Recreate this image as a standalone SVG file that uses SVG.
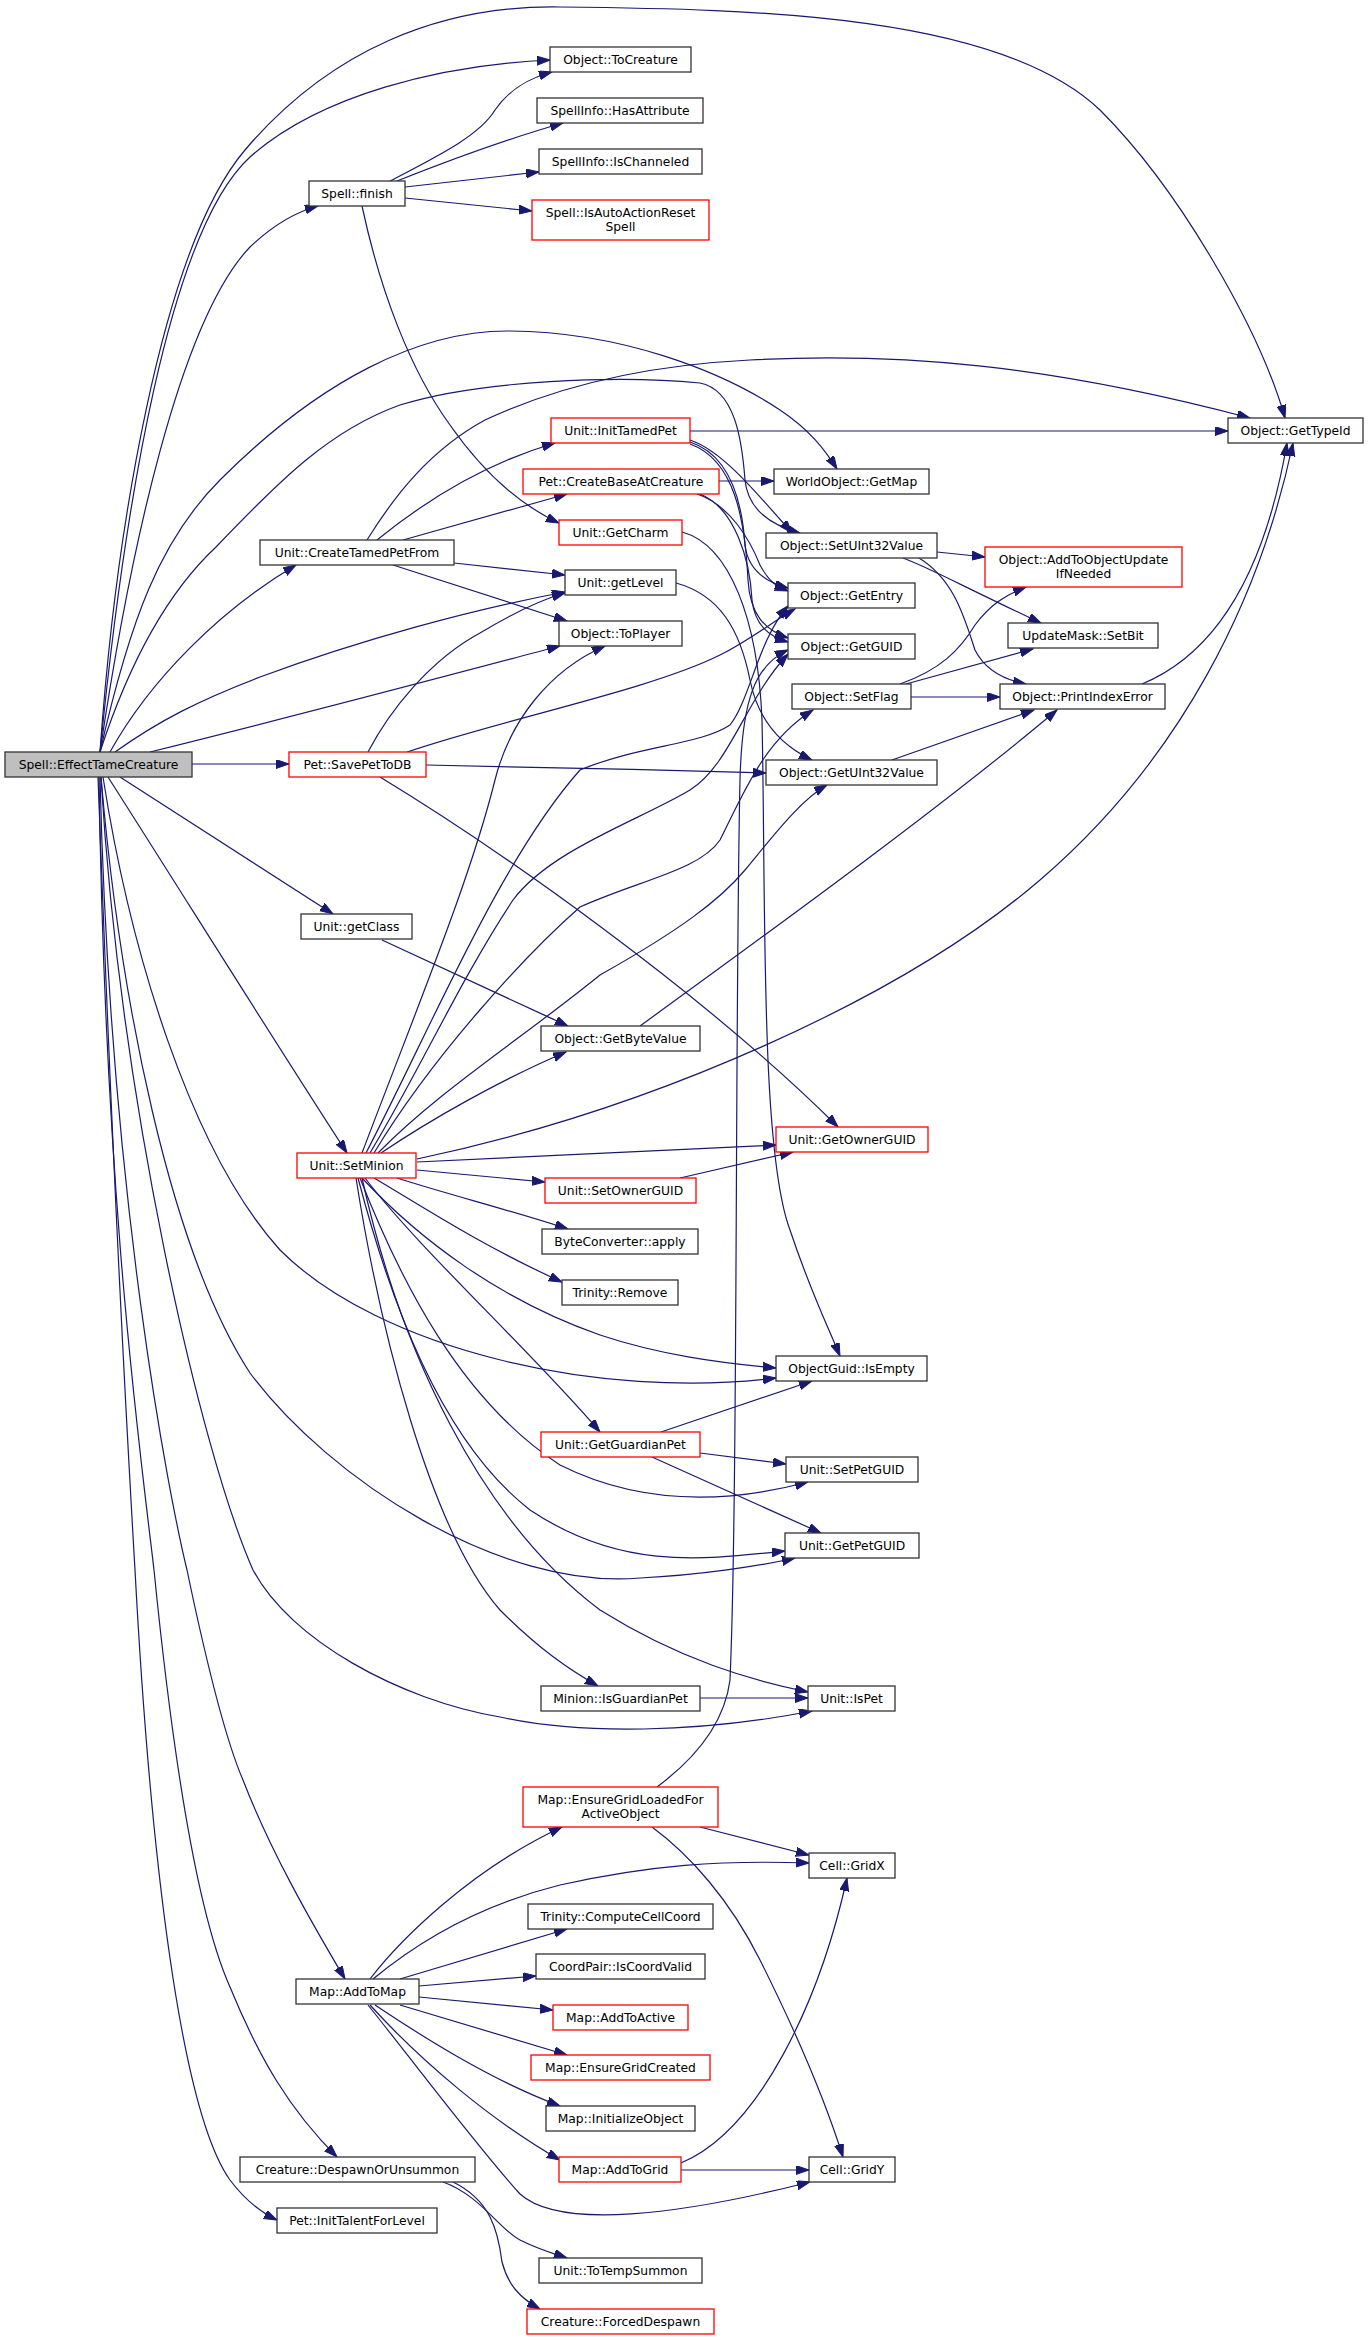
<svg xmlns="http://www.w3.org/2000/svg" width="1369" height="2340" viewBox="0 0 1369 2340">
<style>
.n rect{fill:#ffffff;stroke:#333333;stroke-width:1.3}
.r rect{stroke:#ff0000}
.c rect{fill:#bfbfbf}
text{font-family:"DejaVu Sans","Liberation Sans",sans-serif;font-size:12.3px;text-anchor:middle;fill:#000000}
.e path{fill:none;stroke:#191970;stroke-width:1.2;marker-end:url(#a)}
</style>
<defs>
<marker id="a" markerWidth="14" markerHeight="10" refX="13" refY="4.5" orient="auto" markerUnits="userSpaceOnUse">
<path d="M0,0 L13,4.5 L0,9 z" fill="#191970" stroke="#191970" stroke-width="1"/>
</marker>
</defs>
<rect x="0" y="0" width="1369" height="2340" fill="#ffffff"/>
<g class="e" id="edges">
<path d="M100,752 C115,540 160,250 245,150 C330,50 440,5 560,7 C760,9 1000,15 1100,110 C1180,190 1260,330 1285,418"/>
<path d="M100,752 C125,500 170,230 250,157 C320,95 440,65 550,60"/>
<path d="M100,752 C130,550 180,320 250,247 C270,228 292,213 318,206"/>
<path d="M100,752 C130,620 160,540 220,480 C320,380 420,330 510,331 C620,332 720,370 780,410 C810,430 825,450 837,469"/>
<path d="M100,752 C130,660 170,590 216,547 C280,480 330,430 400,405 C480,380 620,375 700,383 C735,390 742,440 745,480 C748,510 770,525 800,533"/>
<path d="M367,540 C395,495 430,450 485,420 C560,385 650,365 750,360 C900,352 1050,365 1250,418"/>
<path d="M110,752 C150,680 220,610 296,565"/>
<path d="M115,752 C160,720 200,700 260,677 C360,640 470,610 565,592"/>
<path d="M150,752 C300,715 450,675 560,646"/>
<path d="M192,764 L289,764"/>
<path d="M120,777 L333,914"/>
<path d="M108,777 C180,890 280,1050 347,1153"/>
<path d="M103,777 C130,950 190,1150 280,1250 C380,1350 600,1400 776,1378"/>
<path d="M101,777 C120,1000 170,1250 250,1373 C330,1480 500,1590 640,1578 C700,1575 760,1566 795,1558"/>
<path d="M101,777 C120,1100 200,1450 253,1570 C290,1640 400,1700 500,1717 C580,1735 700,1733 812,1711"/>
<path d="M100,777 C110,1200 170,1500 187,1570 C210,1680 230,1750 243,1780 C270,1850 310,1920 345,1979"/>
<path d="M99,777 C105,1200 140,1450 154,1570 C175,1780 200,1920 230,1987 C260,2060 290,2110 337,2157"/>
<path d="M98,777 C110,1100 125,1400 135,1570 C150,1850 180,2110 230,2180 C245,2200 260,2212 277,2220"/>
<path d="M390,181 C440,155 480,135 495,110 C510,88 530,78 552,72"/>
<path d="M397,181 C450,160 510,138 563,123"/>
<path d="M405,187 L539,172"/>
<path d="M405,198 L532,211"/>
<path d="M362,206 C380,290 410,370 450,425 C485,475 520,505 559,523"/>
<path d="M377,540 C420,505 480,465 555,443"/>
<path d="M403,540 L567,494"/>
<path d="M454,563 L565,575"/>
<path d="M393,565 L567,621"/>
<path d="M690,431 L1228,431"/>
<path d="M690,440 C720,450 750,485 792,533"/>
<path d="M690,442 C730,455 742,500 745,545 C748,570 765,582 788,588"/>
<path d="M690,444 C735,460 745,520 748,580 C750,615 765,630 788,638"/>
<path d="M719,481 L774,481"/>
<path d="M697,494 C730,505 750,540 760,565 C768,580 775,586 788,591"/>
<path d="M700,494 C735,508 750,560 752,600 C755,625 768,636 788,642"/>
<path d="M682,532 C730,545 758,620 762,720 C766,900 760,1150 790,1230 C810,1290 825,1320 840,1356"/>
<path d="M676,583 C720,595 740,630 750,680 C758,720 780,745 812,760"/>
<path d="M368,752 C390,710 430,660 480,633 C510,615 540,600 565,593"/>
<path d="M407,752 C500,720 650,690 720,655 C750,640 775,620 795,609"/>
<path d="M426,765 C550,767 650,770 766,773"/>
<path d="M380,777 C500,850 700,990 838,1127"/>
<path d="M382,940 C430,962 500,995 568,1026"/>
<path d="M362,1153 C420,1000 470,880 495,780 C510,720 550,670 605,646"/>
<path d="M366,1153 C430,1030 500,860 580,770 C640,745 700,745 730,725 C750,700 758,640 788,606"/>
<path d="M370,1153 C420,1070 460,980 513,900 C550,850 640,820 690,790 C730,765 745,700 788,654"/>
<path d="M374,1153 C430,1060 520,960 580,907 C640,880 700,870 720,840 C745,790 765,740 813,710"/>
<path d="M378,1153 C440,1090 520,1040 600,975 C680,930 720,900 745,870 C770,840 800,800 827,785"/>
<path d="M381,1153 C430,1120 500,1080 566,1052"/>
<path d="M417,1159 C650,1110 900,1000 1040,880 C1180,760 1260,600 1293,443"/>
<path d="M417,1162 L776,1145"/>
<path d="M417,1170 C460,1174 500,1178 545,1182"/>
<path d="M397,1178 C450,1195 510,1210 568,1229"/>
<path d="M374,1178 C420,1205 480,1245 562,1282"/>
<path d="M362,1178 C420,1240 500,1300 600,1335 C660,1355 720,1363 776,1368"/>
<path d="M365,1178 C420,1250 530,1350 600,1432"/>
<path d="M360,1178 C400,1280 460,1400 560,1465 C650,1510 740,1500 808,1482"/>
<path d="M358,1178 C390,1300 440,1440 530,1510 C620,1570 700,1560 785,1551"/>
<path d="M356,1178 C380,1330 430,1530 500,1610 C540,1650 570,1670 598,1686"/>
<path d="M362,1178 C400,1350 480,1520 600,1610 C680,1660 750,1680 808,1692"/>
<path d="M680,1178 L793,1152"/>
<path d="M661,1432 L812,1381"/>
<path d="M700,1453 L786,1464"/>
<path d="M652,1457 L821,1533"/>
<path d="M700,1698 L808,1698"/>
<path d="M657,1787 C700,1755 725,1720 730,1680 C738,1500 735,1000 740,780 C742,700 755,665 788,650"/>
<path d="M700,1827 L809,1855"/>
<path d="M652,1827 C690,1855 730,1900 760,1960 C800,2040 825,2100 843,2157"/>
<path d="M370,1979 C400,1940 470,1870 562,1827"/>
<path d="M373,1979 C420,1940 480,1905 560,1885 C650,1865 720,1860 809,1863"/>
<path d="M400,1979 L567,1929"/>
<path d="M419,1986 L536,1976"/>
<path d="M419,1997 L553,2010"/>
<path d="M400,2005 L567,2055"/>
<path d="M375,2005 C420,2035 490,2080 560,2106"/>
<path d="M370,2005 C420,2060 490,2120 560,2160"/>
<path d="M368,2005 C420,2070 480,2150 520,2194 C560,2230 680,2215 810,2182"/>
<path d="M681,2163 C760,2130 820,2000 847,1878"/>
<path d="M681,2170 L809,2170"/>
<path d="M443,2182 C480,2195 500,2230 520,2240 C540,2250 555,2254 567,2258"/>
<path d="M453,2182 C490,2200 498,2230 502,2262 C508,2285 520,2298 540,2309"/>
<path d="M900,684 C940,670 960,650 975,625 C990,605 1005,595 1026,587"/>
<path d="M906,684 L1033,649"/>
<path d="M911,697 L1000,697"/>
<path d="M937,552 L985,557"/>
<path d="M903,558 C930,568 960,585 1041,623"/>
<path d="M919,558 C955,580 965,620 975,650 C985,670 1005,680 1026,684"/>
<path d="M1142,684 C1200,660 1260,600 1287,443"/>
<path d="M892,760 L1034,710"/>
<path d="M640,1026 C800,910 950,800 1057,710"/>
</g>
<g id="n0" class="n c"><rect x="5" y="752" width="187" height="25"/><text x="98.5" y="769">Spell::EffectTameCreature</text></g>
<g id="n1" class="n"><rect x="550" y="47" width="141" height="25"/><text x="620.5" y="64">Object::ToCreature</text></g>
<g id="n2" class="n"><rect x="537" y="98" width="166" height="25"/><text x="620" y="115">SpellInfo::HasAttribute</text></g>
<g id="n3" class="n"><rect x="539" y="149" width="163" height="25"/><text x="620.5" y="166">SpellInfo::IsChanneled</text></g>
<g id="n4" class="n r"><rect x="532" y="200" width="177" height="40"/><text x="620.5" y="217">Spell::IsAutoActionReset</text><text x="620.5" y="231">Spell</text></g>
<g id="n5" class="n"><rect x="309" y="181" width="96" height="25"/><text x="357" y="198">Spell::finish</text></g>
<g id="n6" class="n"><rect x="1228" y="418" width="135" height="25"/><text x="1295.5" y="435">Object::GetTypeId</text></g>
<g id="n7" class="n r"><rect x="551" y="418" width="139" height="25"/><text x="620.5" y="435">Unit::InitTamedPet</text></g>
<g id="n8" class="n"><rect x="774" y="469" width="155" height="25"/><text x="851.5" y="486">WorldObject::GetMap</text></g>
<g id="n9" class="n r"><rect x="523" y="469" width="196" height="25"/><text x="621" y="486">Pet::CreateBaseAtCreature</text></g>
<g id="n10" class="n"><rect x="766" y="533" width="171" height="25"/><text x="851.5" y="550">Object::SetUInt32Value</text></g>
<g id="n11" class="n r"><rect x="559" y="520" width="123" height="25"/><text x="620.5" y="537">Unit::GetCharm</text></g>
<g id="n12" class="n r"><rect x="985" y="547" width="197" height="40"/><text x="1083.5" y="564">Object::AddToObjectUpdate</text><text x="1083.5" y="578">IfNeeded</text></g>
<g id="n13" class="n"><rect x="260" y="540" width="194" height="25"/><text x="357" y="557">Unit::CreateTamedPetFrom</text></g>
<g id="n14" class="n"><rect x="565" y="570" width="111" height="25"/><text x="620.5" y="587">Unit::getLevel</text></g>
<g id="n15" class="n"><rect x="788" y="583" width="127" height="25"/><text x="851.5" y="600">Object::GetEntry</text></g>
<g id="n16" class="n"><rect x="559" y="621" width="123" height="25"/><text x="620.5" y="638">Object::ToPlayer</text></g>
<g id="n17" class="n"><rect x="1008" y="623" width="150" height="25"/><text x="1083" y="640">UpdateMask::SetBit</text></g>
<g id="n18" class="n"><rect x="788" y="634" width="127" height="25"/><text x="851.5" y="651">Object::GetGUID</text></g>
<g id="n19" class="n"><rect x="792" y="684" width="119" height="25"/><text x="851.5" y="701">Object::SetFlag</text></g>
<g id="n20" class="n"><rect x="1000" y="684" width="165" height="25"/><text x="1082.5" y="701">Object::PrintIndexError</text></g>
<g id="n21" class="n r"><rect x="289" y="752" width="137" height="25"/><text x="357.5" y="769">Pet::SavePetToDB</text></g>
<g id="n22" class="n"><rect x="766" y="760" width="171" height="25"/><text x="851.5" y="777">Object::GetUInt32Value</text></g>
<g id="n23" class="n"><rect x="301" y="914" width="111" height="25"/><text x="356.5" y="931">Unit::getClass</text></g>
<g id="n24" class="n"><rect x="541" y="1026" width="159" height="25"/><text x="620.5" y="1043">Object::GetByteValue</text></g>
<g id="n25" class="n r"><rect x="776" y="1127" width="152" height="25"/><text x="852" y="1144">Unit::GetOwnerGUID</text></g>
<g id="n26" class="n r"><rect x="297" y="1153" width="119" height="25"/><text x="356.5" y="1170">Unit::SetMinion</text></g>
<g id="n27" class="n r"><rect x="545" y="1178" width="151" height="25"/><text x="620.5" y="1195">Unit::SetOwnerGUID</text></g>
<g id="n28" class="n"><rect x="542" y="1229" width="156" height="25"/><text x="620" y="1246">ByteConverter::apply</text></g>
<g id="n29" class="n"><rect x="562" y="1280" width="116" height="25"/><text x="620" y="1297">Trinity::Remove</text></g>
<g id="n30" class="n"><rect x="776" y="1356" width="151" height="25"/><text x="851.5" y="1373">ObjectGuid::IsEmpty</text></g>
<g id="n31" class="n r"><rect x="541" y="1432" width="159" height="25"/><text x="620.5" y="1449">Unit::GetGuardianPet</text></g>
<g id="n32" class="n"><rect x="786" y="1457" width="132" height="25"/><text x="852" y="1474">Unit::SetPetGUID</text></g>
<g id="n33" class="n"><rect x="785" y="1533" width="134" height="25"/><text x="852" y="1550">Unit::GetPetGUID</text></g>
<g id="n34" class="n"><rect x="541" y="1686" width="159" height="25"/><text x="620.5" y="1703">Minion::IsGuardianPet</text></g>
<g id="n35" class="n"><rect x="808" y="1686" width="87" height="25"/><text x="851.5" y="1703">Unit::IsPet</text></g>
<g id="n36" class="n r"><rect x="523" y="1787" width="195" height="40"/><text x="620.5" y="1804">Map::EnsureGridLoadedFor</text><text x="620.5" y="1818">ActiveObject</text></g>
<g id="n37" class="n"><rect x="809" y="1853" width="86" height="25"/><text x="852" y="1870">Cell::GridX</text></g>
<g id="n38" class="n"><rect x="528" y="1904" width="185" height="25"/><text x="620.5" y="1921">Trinity::ComputeCellCoord</text></g>
<g id="n39" class="n"><rect x="536" y="1954" width="169" height="25"/><text x="620.5" y="1971">CoordPair::IsCoordValid</text></g>
<g id="n40" class="n r"><rect x="553" y="2005" width="135" height="25"/><text x="620.5" y="2022">Map::AddToActive</text></g>
<g id="n41" class="n"><rect x="296" y="1979" width="123" height="25"/><text x="357.5" y="1996">Map::AddToMap</text></g>
<g id="n42" class="n r"><rect x="531" y="2055" width="179" height="25"/><text x="620.5" y="2072">Map::EnsureGridCreated</text></g>
<g id="n43" class="n"><rect x="546" y="2106" width="149" height="25"/><text x="620.5" y="2123">Map::InitializeObject</text></g>
<g id="n44" class="n r"><rect x="559" y="2157" width="122" height="25"/><text x="620" y="2174">Map::AddToGrid</text></g>
<g id="n45" class="n"><rect x="809" y="2157" width="86" height="25"/><text x="852" y="2174">Cell::GridY</text></g>
<g id="n46" class="n"><rect x="240" y="2157" width="235" height="25"/><text x="357.5" y="2174">Creature::DespawnOrUnsummon</text></g>
<g id="n47" class="n"><rect x="277" y="2208" width="160" height="25"/><text x="357" y="2225">Pet::InitTalentForLevel</text></g>
<g id="n48" class="n"><rect x="539" y="2258" width="163" height="25"/><text x="620.5" y="2275">Unit::ToTempSummon</text></g>
<g id="n49" class="n r"><rect x="527" y="2309" width="187" height="25"/><text x="620.5" y="2326">Creature::ForcedDespawn</text></g>
</svg>
